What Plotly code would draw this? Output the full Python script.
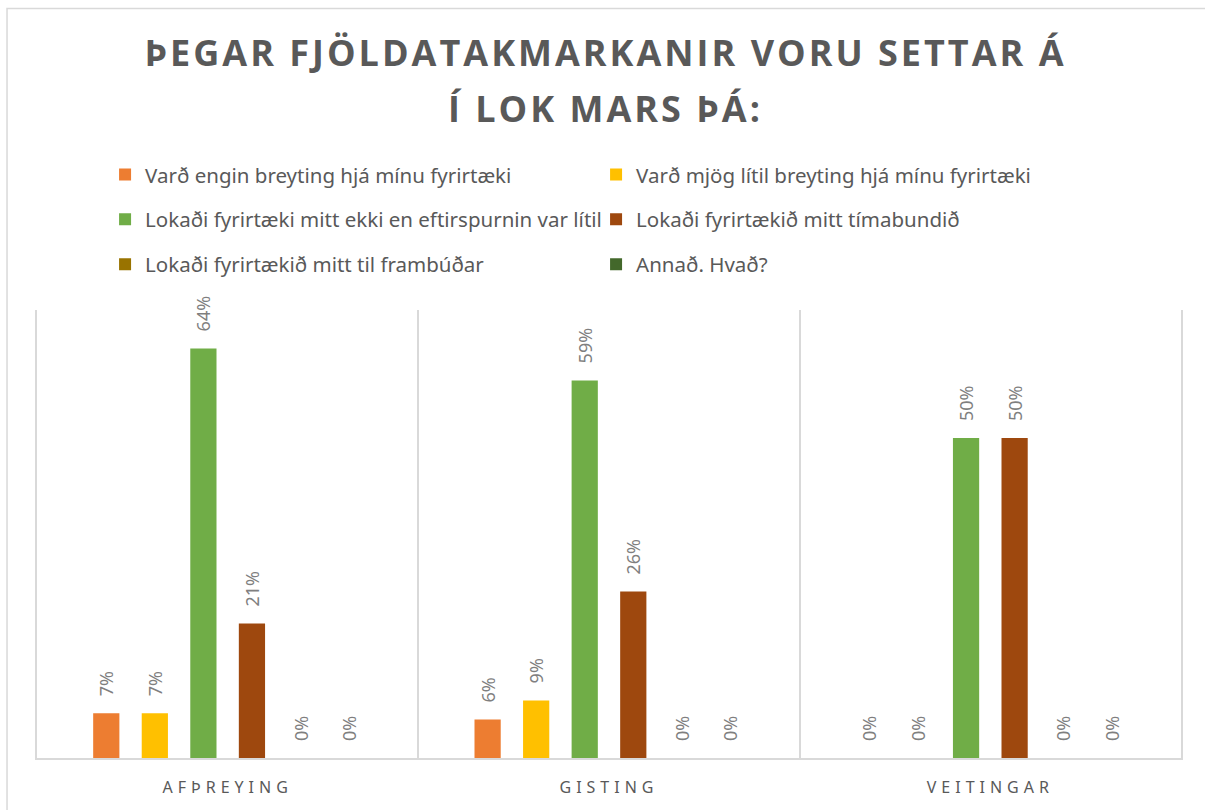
import plotly.graph_objects as go

categories = ["AFÞREYING", "GISTING", "VEITINGAR"]
series_names = [
    "Varð engin breyting hjá mínu fyrirtæki",
    "Varð mjög lítil breyting hjá mínu fyrirtæki",
    "Lokaði fyrirtæki mitt ekki en eftirspurnin var lítil",
    "Lokaði fyrirtækið mitt tímabundið",
    "Lokaði fyrirtækið mitt til frambúðar",
    "Annað. Hvað?",
]
engin_breyting = [0.07, 0.06, 0.00]
mjog_litil = [0.07, 0.09, 0.00]
ekki_lokad = [0.64, 0.59, 0.50]
timabundid = [0.21, 0.26, 0.50]
frambudar = [0.00, 0.00, 0.00]
annad = [0.00, 0.00, 0.00]
series_values = [engin_breyting, mjog_litil, ekki_lokad, timabundid, frambudar, annad]
colors = ["#ED7D31", "#FFC000", "#70AD47", "#9E480E", "#997300", "#43682B"]
legend_ids = ["legend", "legend", "legend2", "legend2", "legend3", "legend3"]

title_line1 = "ÞEGAR FJÖLDATAKMARKANIR VORU SETTAR Á"
title_line2 = "Í LOK MARS ÞÁ:"

fig = go.Figure()
for name, vals, col, lg in zip(series_names, series_values, colors, legend_ids):
    fig.add_trace(go.Bar(
        x=categories, y=vals, name=name, marker_color=col,
        marker_line_width=0,
        texttemplate="%{y:.0%}", textposition="outside", textangle=-90,
        textfont=dict(family="Noto Sans", size=18, color="#7F7F7F"),
        constraintext="none", cliponaxis=False, legend=lg,
    ))

leg_common = dict(orientation="h", xanchor="left", yanchor="middle",
                  entrywidth=446, font=dict(family="Noto Sans", size=20.5, color="#595959"),
                  bgcolor="rgba(0,0,0,0)", traceorder="normal")

fig.update_layout(
    width=1205, height=810,
    margin=dict(l=37, r=24, t=310, b=50),
    paper_bgcolor="white", plot_bgcolor="white",
    barmode="group", bargap=0.236, bargroupgap=0.46,
    showlegend=True,
    legend=dict(x=0.0595, y=1.302, **leg_common),
    legend2=dict(x=0.0595, y=1.202, **leg_common),
    legend3=dict(x=0.0595, y=1.102, **leg_common),
    xaxis=dict(type="category", range=[-0.5, 2.5], showline=True, linecolor="#D9D9D9",
               linewidth=1.5, showgrid=True, gridcolor="#D9D9D9", gridwidth=1.5,
               tickson="boundaries", ticks="", ticklabelstandoff=14,
               tickfont=dict(family="Noto Sans", size=16, color="#595959"), zeroline=False),
    yaxis=dict(range=[0, 0.7], visible=True, showline=True, mirror=True,
               linecolor="#D9D9D9", linewidth=1.5, showticklabels=False, ticks="",
               showgrid=False, zeroline=False),
    annotations=[
        dict(text=title_line1, xref="paper", yref="paper", x=0.497, y=1.574,
             xanchor="center", yanchor="middle", showarrow=False,
             font=dict(family="Open Sans", size=36, weight="bold", color="#595959")),
        dict(text=title_line2, xref="paper", yref="paper", x=0.497, y=1.449,
             xanchor="center", yanchor="middle", showarrow=False,
             font=dict(family="Open Sans", size=36, weight="bold", color="#595959")),
    ],
    shapes=[
        dict(type="rect", xref="paper", yref="paper", x0=-0.0262, x1=1.05, y0=-0.3, y1=1.673,
             line=dict(color="#D9D9D9", width=1.5), fillcolor="rgba(0,0,0,0)", layer="below"),
    ],
)

post = """
document.body.style.margin = '0';
var gd = document.getElementById('{plot_id}');
gd.querySelectorAll('.annotation-text').forEach(function(t){ t.style.letterSpacing = '3px'; });
gd.querySelectorAll('.xtick text').forEach(function(t){ t.style.letterSpacing = '5px'; });
gd.querySelectorAll('.bartext').forEach(function(t){
  var tr = t.getAttribute('transform') || '';
  t.setAttribute('transform', tr + ' translate(14,0)');
});
"""

fig.write_html("out.html", post_script=post, config={"displayModeBar": False})
